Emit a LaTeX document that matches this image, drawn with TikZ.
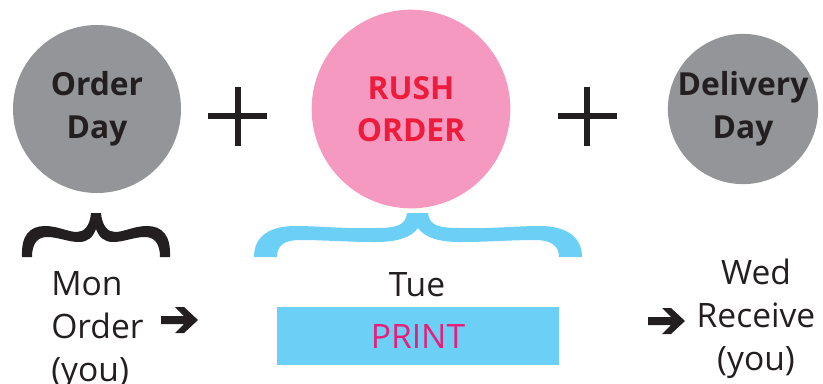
\documentclass[tikz,border=0pt]{standalone}
\usepackage{fontspec}
\setmainfont{Open Sans}
\definecolor{cgray}{HTML}{939598}
\definecolor{cpink}{HTML}{F599C1}
\definecolor{cblue}{HTML}{6CCFF6}
\definecolor{cred}{HTML}{ED1C3C}
\definecolor{cmag}{HTML}{E91E79}
\definecolor{cdark}{HTML}{231F20}
\tikzset{
 disc/.style={circle,inner sep=0pt,align=center,font=\fontsize{23.8pt}{32pt}\selectfont\bfseries,text=cdark},
 lab/.style={inner sep=0pt,font=\fontsize{25.2pt}{32.5pt}\selectfont,text=cdark},
 plus/.style={line width=3.8pt,cdark},
 arrowshape/.pic={\fill[cdark] (-37,-4) -- (-14,-4) -- (-23,-13) -- (-14,-13) -- (0,0) -- (-14,13) -- (-23,13) -- (-14,4) -- (-37,4) -- cycle;}
}
\begin{document}
\begin{tikzpicture}[x=0.75pt,y=-0.75pt]
\useasboundingbox (0,0) rectangle (823,383);
\node[disc,fill=cgray,minimum size=126pt] (order) at (97,109) {Order\\Day};
\node[disc,fill=cpink,minimum size=149pt,text=cred] (rush) at (411,109) {RUSH\\ORDER};
\node[disc,fill=cgray,minimum size=111pt] (deliv) at (743,109) {Delivery\\Day};
\draw[plus] (208,116) -- (267,116) (238,87) -- (238,146);
\draw[plus] (558,116) -- (617,116) (587,87) -- (587,146);
% black brace
\fill[cdark] (22,257) .. controls (21,235) and (30,226) .. (45,226)
  .. controls (58,226) and (68,232) .. (77,232)
  .. controls (84,232) and (90,226) .. (91,213) -- (101,213)
  .. controls (102,226) and (108,232) .. (115,232)
  .. controls (124,232) and (134,226) .. (147,226)
  .. controls (162,226) and (171,235) .. (170,257) -- (160,257)
  .. controls (160,243) and (154,237) .. (145,237)
  .. controls (134,237) and (124,242) .. (113,242)
  .. controls (104,242) and (99,237) .. (96,229)
  .. controls (93,237) and (88,242) .. (79,242)
  .. controls (68,242) and (58,237) .. (47,237)
  .. controls (38,237) and (32,243) .. (32,257) -- cycle;
% blue brace
\fill[cblue] (254,257) .. controls (254,236) and (270,226) .. (295,226)
  .. controls (320,226) and (345,229) .. (375,228)
  .. controls (395,228) and (406,226) .. (407,213) -- (428,213)
  .. controls (429,226) and (440,228) .. (460,228)
  .. controls (490,229) and (515,226) .. (540,226)
  .. controls (565,226) and (582,236) .. (582,257) -- (559,257)
  .. controls (559,245) and (550,240) .. (535,240)
  .. controls (510,240) and (490,242) .. (460,242)
  .. controls (440,242) and (425,238) .. (418,228)
  .. controls (411,238) and (396,242) .. (375,242)
  .. controls (345,242) and (325,240) .. (300,240)
  .. controls (285,240) and (277,245) .. (277,257) -- cycle;
\node[lab,anchor=base west] (mon) at (51,295) {Mon};
\node[lab,anchor=base west] (orderlab) at (51,338) {Order};
\node[lab,anchor=base west] (you1) at (51,381) {(you)};
\node[lab] (tue) at (417,285) {Tue};
\node[fill=cblue,minimum width=211.5pt,minimum height=43pt,inner sep=0pt,text=cmag,font=\fontsize{25.2pt}{30pt}\selectfont] (print) at (418,336) {PRINT};
\node[lab,anchor=base] (wed) at (756,284) {Wed};
\node[lab,anchor=base] (receive) at (756,327) {Receive};
\node[lab,anchor=base] (you2) at (756,370) {(you)};
\pic at (198,320) {arrowshape};
\pic at (685,321) {arrowshape};
\end{tikzpicture}
\end{document}
